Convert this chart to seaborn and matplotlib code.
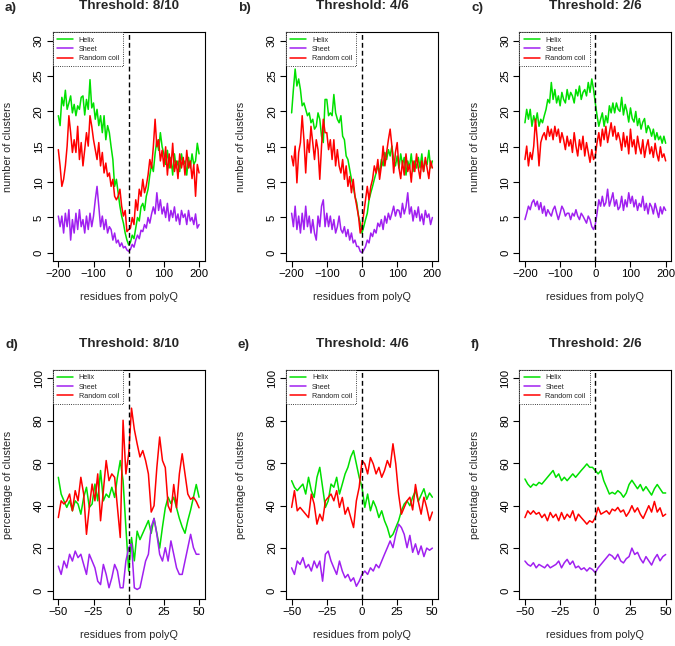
import numpy as np
import pandas as pd
import seaborn as sns
import matplotlib.pyplot as plt

# x positions
residues_wide = list(range(-200, 201, 5))
residues_narrow = list(range(-50, 51, 2))

structures = ["Helix", "Sheet", "Random coil"]
colors = {"Helix": "#00E000", "Sheet": "#A020F0", "Random coil": "#FF0000"}

# a) number of clusters, threshold 8/10
helix_a = [19.4, 18.0, 22.0, 20.8, 23.0, 20.3, 21.2, 22.2, 19.8, 21.0,
           19.4, 20.8, 20.3, 22.0, 22.2, 19.5, 21.7, 20.3, 24.5, 20.5,
           21.2, 18.9, 20.3, 18.0, 19.4, 17.0, 19.4, 16.0, 18.0, 17.0,
           15.0, 13.2, 9.4, 10.4, 8.5, 6.6, 5.2, 4.2, 2.8, 1.8,
           1.1, 1.5, 2.5, 2.0, 3.5, 5.0, 4.5, 6.5, 7.0, 6.0,
           8.0, 9.0, 11.0, 12.5, 11.5, 14.0, 16.0, 14.5, 17.0, 15.0,
           14.0, 12.5, 14.5, 12.0, 13.5, 11.0, 14.0, 12.0, 13.0, 11.5,
           14.0, 12.5, 13.0, 11.0, 13.5, 12.0, 14.0, 12.5, 13.0, 15.5,
           14.0]
sheet_a = [5.2, 3.7, 5.2, 2.8, 5.6, 3.7, 6.1, 1.8, 4.7, 2.8,
           5.6, 3.3, 6.1, 3.7, 4.7, 2.8, 5.2, 3.3, 5.6, 3.7,
           5.2, 7.5, 9.4, 6.6, 3.7, 5.2, 3.3, 4.7, 2.8, 3.7,
           3.3, 1.8, 2.8, 1.4, 1.8, 0.9, 1.4, 0.7, 0.9, 0.4,
           0.2, 0.5, 1.2, 0.8, 1.8, 2.5, 2.0, 3.2, 3.0, 4.0,
           3.5, 5.0, 4.2, 5.5, 6.5, 5.5, 8.5, 6.0, 7.5, 5.5,
           6.5, 5.0, 7.0, 4.5, 6.0, 5.0, 6.5, 4.5, 5.5, 4.0,
           6.0, 5.0, 5.5, 4.0, 6.0, 4.5, 5.0, 4.0, 5.5, 3.5,
           4.0]
coil_a = [14.6, 12.3, 9.4, 10.4, 12.3, 15.1, 19.4, 17.0, 14.2, 16.0,
          14.2, 17.9, 13.2, 15.6, 12.3, 14.6, 17.0, 15.1, 19.4, 17.9,
          16.0, 14.6, 13.2, 15.6, 12.3, 14.2, 11.3, 12.7, 10.8, 11.3,
          9.4, 10.4, 8.0, 7.5, 8.0, 9.0, 6.6, 5.2, 6.0, 3.0,
          3.3, 3.5, 5.0, 4.0, 7.5, 6.0, 9.0, 8.0, 10.4, 8.5,
          9.5, 11.0, 13.2, 12.0, 15.0, 18.9, 15.0, 16.0, 13.0, 14.5,
          12.2, 15.0, 11.0, 14.0, 12.0, 15.5, 11.5, 13.0, 10.5, 14.0,
          12.0, 13.5, 11.0, 14.5, 12.0, 13.0, 10.5, 12.5, 8.0, 12.5,
          11.3]

# b) number of clusters, threshold 4/6
helix_b = [19.8, 23.1, 26.0, 23.6, 24.6, 23.1, 20.8, 21.2, 20.3, 19.4,
           19.8, 18.4, 18.9, 17.5, 17.9, 19.8, 18.9, 16.5, 15.6, 21.7,
           21.7, 19.4, 19.8, 19.4, 22.4, 19.8, 18.9, 18.4, 19.4, 16.5,
           16.0, 13.7, 13.2, 11.8, 10.4, 9.4, 8.0, 7.1, 5.2, 4.2,
           2.8, 3.7, 4.7, 5.6, 7.5, 8.5, 9.4, 10.4, 11.3, 12.3,
           11.3, 13.2, 12.3, 14.2, 13.2, 14.6, 13.7, 15.1, 13.2, 12.3,
           13.7, 12.0, 14.0, 12.5, 13.5, 11.0, 13.0, 12.0, 14.0, 11.5,
           13.0, 12.0, 13.5, 12.0, 14.0, 11.5, 13.0, 12.5, 14.5, 12.0,
           13.0]
sheet_b = [5.6, 3.7, 6.6, 3.3, 5.2, 2.8, 5.6, 3.3, 6.6, 3.7,
           5.2, 2.8, 4.7, 2.8, 1.8, 5.2, 3.7, 6.6, 7.5, 3.7,
           5.6, 3.7, 5.2, 3.3, 4.7, 2.8, 3.7, 5.2, 3.3, 2.8,
           3.7, 2.3, 3.3, 1.8, 2.8, 1.4, 1.8, 0.9, 0.9, 0.2,
           0.0, 0.4, 0.9, 1.8, 1.4, 2.8, 2.3, 3.3, 2.8, 4.2,
           3.7, 4.7, 3.3, 5.2, 4.2, 5.6, 4.7, 5.6, 6.6, 5.2,
           6.1, 6.0, 5.0, 7.0, 5.5, 6.5, 8.5, 5.5, 6.5, 4.5,
           6.0, 5.0, 6.5, 4.5, 5.5, 4.0, 6.0, 5.0, 5.5, 4.0,
           5.0]
coil_b = [13.7, 12.3, 15.1, 9.9, 14.2, 15.6, 19.4, 16.0, 11.3, 16.0,
          14.2, 17.9, 15.6, 13.2, 16.0, 14.6, 10.4, 15.1, 18.9, 17.0,
          17.0, 14.6, 16.0, 13.2, 16.0, 12.3, 14.6, 12.3, 11.3, 13.2,
          10.4, 12.3, 9.4, 10.8, 8.5, 10.4, 8.0, 6.6, 5.2, 2.8,
          3.7, 5.6, 7.5, 9.4, 7.5, 9.4, 10.4, 12.3, 11.3, 13.2,
          10.4, 12.3, 15.1, 12.3, 14.2, 16.0, 17.5, 15.1, 11.3, 14.2,
          15.6, 12.0, 10.5, 13.0, 11.0, 14.0, 11.5, 12.5, 10.0, 13.0,
          11.5, 14.0, 12.0, 10.5, 13.0, 11.5, 13.5, 12.0, 10.5, 13.0,
          12.0]

# c) number of clusters, threshold 2/6
helix_c = [18.4, 20.3, 18.9, 20.3, 17.9, 19.4, 18.4, 19.8, 17.9, 18.9,
           18.4, 19.4, 20.3, 21.7, 21.2, 24.1, 21.7, 23.1, 21.2, 22.2,
           20.8, 22.7, 21.7, 21.2, 23.1, 21.7, 22.7, 22.2, 21.2, 23.1,
           22.2, 23.6, 21.7, 22.7, 23.1, 22.2, 24.1, 22.7, 24.6, 23.1,
           21.2, 19.4, 17.9, 18.9, 19.8, 17.9, 19.4, 18.4, 20.8, 19.8,
           21.2, 19.8, 21.2, 20.3, 20.0, 22.0, 19.5, 21.0, 20.0, 18.5,
           20.5, 19.0, 18.5, 20.0, 18.0, 19.0, 17.5, 18.5, 19.0, 17.0,
           18.0, 17.5, 16.5, 17.5, 16.0, 17.0, 16.0, 16.5, 15.5, 16.5,
           15.5]
sheet_c = [4.7, 5.6, 6.6, 6.1, 7.1, 7.5, 6.6, 7.3, 6.1, 7.1,
           5.6, 6.6, 5.2, 6.1, 5.6, 5.2, 6.1, 6.6, 5.6, 4.7,
           5.6, 6.6, 6.1, 5.2, 5.6, 5.6, 4.7, 5.6, 5.2, 6.1,
           5.2, 4.7, 5.6, 5.2, 4.7, 4.2, 5.2, 4.7, 3.7, 3.3,
           4.0, 5.6, 7.5, 6.6, 8.0, 6.6, 7.1, 9.0, 6.6, 7.5,
           8.5, 6.6, 7.5, 6.1, 6.5, 8.0, 6.0, 7.5, 6.5, 8.5,
           7.0, 8.0, 6.5, 7.5, 6.0, 7.0, 6.5, 8.0, 6.0, 7.0,
           5.5, 7.0, 6.5, 5.5, 7.0, 6.0, 5.0, 6.5, 5.5, 6.5,
           6.0]
coil_c = [13.2, 15.1, 12.3, 14.2, 13.2, 15.1, 18.9, 16.0, 12.3, 15.6,
          16.5, 17.0, 16.0, 17.9, 16.5, 17.5, 16.0, 17.9, 16.5, 17.5,
          15.6, 17.0, 16.0, 14.6, 16.5, 15.1, 16.0, 14.2, 17.0, 15.1,
          13.7, 16.0, 14.6, 16.5, 13.7, 15.6, 14.2, 12.8, 14.6, 13.2,
          13.7, 15.6, 17.0, 15.1, 17.5, 16.0, 17.9, 15.6, 17.0, 18.4,
          16.5, 17.9, 16.0, 17.0, 16.0, 14.5, 17.0, 15.0, 16.5, 14.0,
          17.5, 15.0, 16.0, 14.0, 16.5, 15.0, 14.0, 16.0, 13.5, 15.0,
          16.0, 14.0, 15.0, 13.5, 15.5, 14.0, 13.0, 15.0, 13.5, 14.0,
          13.0]

# d) percentage of clusters, threshold 8/10
helix_d = [53.4, 45.5, 42.3, 39.2, 42.3, 37.6, 42.3, 40.8, 36.0, 43.9,
           48.7, 39.2, 40.8, 50.2, 42.3, 56.6, 42.3, 45.5, 43.9, 48.7,
           43.9, 53.4, 61.3, 51.8, 29.7, 9.2, 25.0, 14.0, 28.0, 24.0,
           27.0, 30.0, 33.0, 27.0, 34.0, 27.0, 20.0, 30.0, 39.0, 44.0,
           41.0, 44.0, 39.0, 34.0, 30.0, 27.0, 33.0, 38.0, 44.0, 50.0,
           44.0]
sheet_d = [11.5, 7.6, 13.9, 10.7, 17.1, 13.9, 18.6, 15.5, 17.1, 12.3,
           7.6, 17.1, 13.9, 10.7, 4.4, 2.8, 12.3, 7.6, 1.3, 6.0,
           12.3, 9.2, 1.3, 1.3, 13.9, 20.2, 22.0, 1.3, 0.5, 1.3,
           7.6, 13.9, 17.1, 30.0, 34.0, 26.5, 17.1, 13.9, 20.2, 13.9,
           23.4, 17.1, 10.7, 7.6, 7.6, 13.9, 20.2, 26.5, 20.2, 17.1,
           17.1]
coil_d = [34.4, 42.3, 40.8, 42.3, 45.5, 37.6, 47.1, 42.3, 53.4, 45.5,
          26.5, 39.2, 50.2, 42.3, 55.0, 32.9, 47.1, 61.3, 51.8, 55.0,
          53.4, 39.2, 25.0, 80.3, 55.0, 64.5, 86.0, 76.0, 69.2, 63.0,
          66.0, 61.3, 55.0, 37.0, 40.0, 58.0, 72.4, 61.3, 58.0, 40.0,
          37.0, 50.0, 39.0, 55.0, 64.5, 55.0, 45.5, 43.0, 44.0, 42.0,
          39.0]

# e) percentage of clusters, threshold 4/6
helix_e = [51.8, 48.7, 47.1, 48.7, 50.2, 45.5, 53.4, 47.1, 43.9, 53.4,
           58.1, 48.7, 39.2, 42.3, 50.2, 48.7, 53.4, 45.5, 50.2, 55.0,
           58.1, 63.0, 66.0, 59.7, 53.4, 48.7, 39.2, 45.5, 37.6, 42.3,
           39.2, 34.4, 37.6, 32.9, 29.7, 25.0, 26.5, 29.7, 32.9, 37.6,
           40.8, 42.3, 40.0, 44.0, 47.0, 42.0, 45.0, 48.0, 43.0, 46.0,
           44.0]
sheet_e = [10.7, 7.6, 13.9, 12.3, 15.5, 10.7, 12.3, 9.2, 13.9, 10.7,
           13.9, 4.4, 17.1, 18.6, 13.9, 10.7, 7.6, 13.9, 9.2, 6.0,
           7.6, 4.4, 6.0, 2.0, 4.4, 7.6, 9.2, 7.6, 10.7, 9.2,
           12.3, 10.7, 13.9, 17.1, 20.2, 23.4, 20.2, 26.5, 31.3, 29.7,
           26.5, 20.2, 26.0, 18.0, 22.0, 17.0, 21.0, 16.0, 20.0, 19.0,
           20.0]
coil_e = [39.2, 47.1, 37.6, 39.2, 37.6, 36.0, 34.4, 45.5, 40.8, 31.3,
          36.0, 32.9, 42.3, 43.9, 45.5, 42.3, 47.1, 39.2, 43.9, 36.0,
          39.2, 34.4, 29.7, 42.3, 48.7, 61.3, 59.7, 55.0, 62.7, 59.7,
          55.0, 58.1, 53.4, 56.6, 61.3, 58.1, 69.2, 59.7, 45.5, 36.0,
          39.2, 42.3, 44.0, 38.0, 50.0, 42.0, 36.0, 44.0, 39.0, 33.0,
          37.0]

# f) percentage of clusters, threshold 2/6
helix_f = [52.6, 50.2, 48.7, 50.2, 49.5, 51.0, 50.2, 51.8, 53.4, 55.0,
           56.6, 53.4, 55.0, 51.8, 53.4, 51.8, 53.4, 55.0, 53.4, 55.0,
           56.6, 58.1, 59.7, 58.1, 58.1, 56.6, 55.0, 56.6, 51.8, 48.7,
           45.5, 46.3, 45.5, 47.1, 46.0, 44.0, 46.0, 50.0, 52.0, 50.0,
           48.0, 50.0, 47.0, 49.0, 47.0, 45.0, 48.0, 50.0, 48.0, 46.0,
           46.0]
sheet_f = [13.9, 12.3, 11.5, 13.1, 10.7, 12.3, 11.5, 10.7, 12.3, 10.7,
           11.5, 12.3, 13.9, 10.7, 13.1, 14.7, 12.3, 13.9, 10.7, 11.5,
           9.9, 10.7, 9.2, 10.7, 9.9, 8.4, 10.7, 12.3, 13.9, 15.5,
           17.1, 16.3, 14.7, 17.1, 14.0, 13.0, 15.0, 16.0, 20.0, 17.0,
           18.0, 15.0, 13.0, 16.0, 14.0, 12.0, 15.0, 17.0, 14.0, 16.0,
           17.0]
coil_f = [34.4, 37.6, 36.0, 37.6, 36.0, 36.8, 34.4, 36.0, 32.9, 36.8,
          34.4, 36.0, 32.9, 36.8, 33.6, 36.0, 34.4, 37.6, 32.9, 36.0,
          34.4, 32.9, 31.3, 32.9, 32.1, 34.4, 39.2, 36.0, 36.8, 37.6,
          36.0, 38.4, 37.6, 39.2, 37.0, 38.0, 35.0, 37.0, 40.0, 37.0,
          39.0, 36.0, 34.0, 37.0, 40.0, 37.0, 42.0, 37.0, 39.0, 35.0,
          36.0]

panel_letters = ["a)", "b)", "c)", "d)", "e)", "f)"]
panel_titles = ["Threshold: 8/10", "Threshold: 4/6", "Threshold: 2/6"] * 2
panel_series = [(helix_a, sheet_a, coil_a), (helix_b, sheet_b, coil_b),
                (helix_c, sheet_c, coil_c), (helix_d, sheet_d, coil_d),
                (helix_e, sheet_e, coil_e), (helix_f, sheet_f, coil_f)]

sns.set_style("white")
plt.rcParams['font.family'] = ['Liberation Sans', 'DejaVu Sans']

W, H = 675, 646
fig = plt.figure(figsize=(W / 100, H / 100), dpi=100)

col_left = [52.7, 286.0, 519.3]
row_top = [32.3, 370.0]
box_w, box_h = 152.0, 229.0
letter_x = [5, 238, 471]
letter_y = [8, 345]

for i in range(6):
    r, c = divmod(i, 3)
    ax = fig.add_axes([col_left[c] / W, 1 - (row_top[r] + box_h) / H,
                       box_w / W, box_h / H])
    residues = residues_wide if r == 0 else residues_narrow
    helix, sheet, coil = panel_series[i]
    df = pd.DataFrame({
        "residue": residues * 3,
        "value": helix + sheet + coil,
        "structure": ["Helix"] * len(helix) + ["Sheet"] * len(sheet)
                     + ["Random coil"] * len(coil),
    })
    sns.lineplot(data=df, x="residue", y="value", hue="structure",
                 hue_order=structures, palette=colors, estimator=None,
                 lw=1.1, ax=ax)
    ax.axvline(0, color="black", lw=1.0, ls=(0, (3.5, 2.2)), zorder=5)

    if r == 0:
        ax.set_xlim(-216, 216)
        ax.set_ylim(-1.2, 31.2)
        ax.set_xticks([-200, -100, 0, 100, 200])
        ax.set_yticks([0, 5, 10, 15, 20, 25, 30])
        ax.set_ylabel("number of clusters", fontsize=7.8)
    else:
        ax.set_xlim(-54, 54)
        ax.set_ylim(-4, 104)
        ax.set_xticks([-50, -25, 0, 25, 50])
        ax.set_yticks([0, 20, 40, 60, 80, 100])
        ax.set_ylabel("percentage of clusters", fontsize=7.8)
    ax.set_xlabel("residues from polyQ", fontsize=7.8)
    ax.xaxis.set_label_coords(0.5, -30.5 / box_h)
    ax.yaxis.set_label_coords(-39.5 / box_w, 0.5)

    ax.tick_params(direction="out", length=4, width=0.8, labelsize=8.2,
                   colors="black", bottom=True, left=True)
    ax.tick_params(axis="x", pad=1.5)
    ax.tick_params(axis="y", pad=2.5)
    for lbl in ax.get_yticklabels():
        lbl.set_rotation(90)
        lbl.set_va("center")
    for sp in ax.spines.values():
        sp.set_visible(True)
        sp.set_color("black")
        sp.set_linewidth(0.8)

    handles, labels = ax.get_legend_handles_labels()
    leg = ax.legend(handles, labels, loc="upper left", bbox_to_anchor=(0, 1),
                    borderaxespad=0, fontsize=5.2, frameon=True, fancybox=False,
                    edgecolor="black", framealpha=1, handlelength=2.2,
                    handletextpad=0.8, labelspacing=0.3, borderpad=0.6)
    leg.get_frame().set_linestyle(":")
    leg.get_frame().set_linewidth(0.6)

    ax.text(0.5, 1 + 26.5 / box_h, panel_titles[i], transform=ax.transAxes,
            ha="center", va="center", fontsize=9.7, fontweight="bold")
    fig.text(letter_x[c] / W, 1 - letter_y[r] / H, panel_letters[i],
             ha="left", va="center", fontsize=9.7, fontweight="bold")

fig.savefig("out.png", dpi=100)
